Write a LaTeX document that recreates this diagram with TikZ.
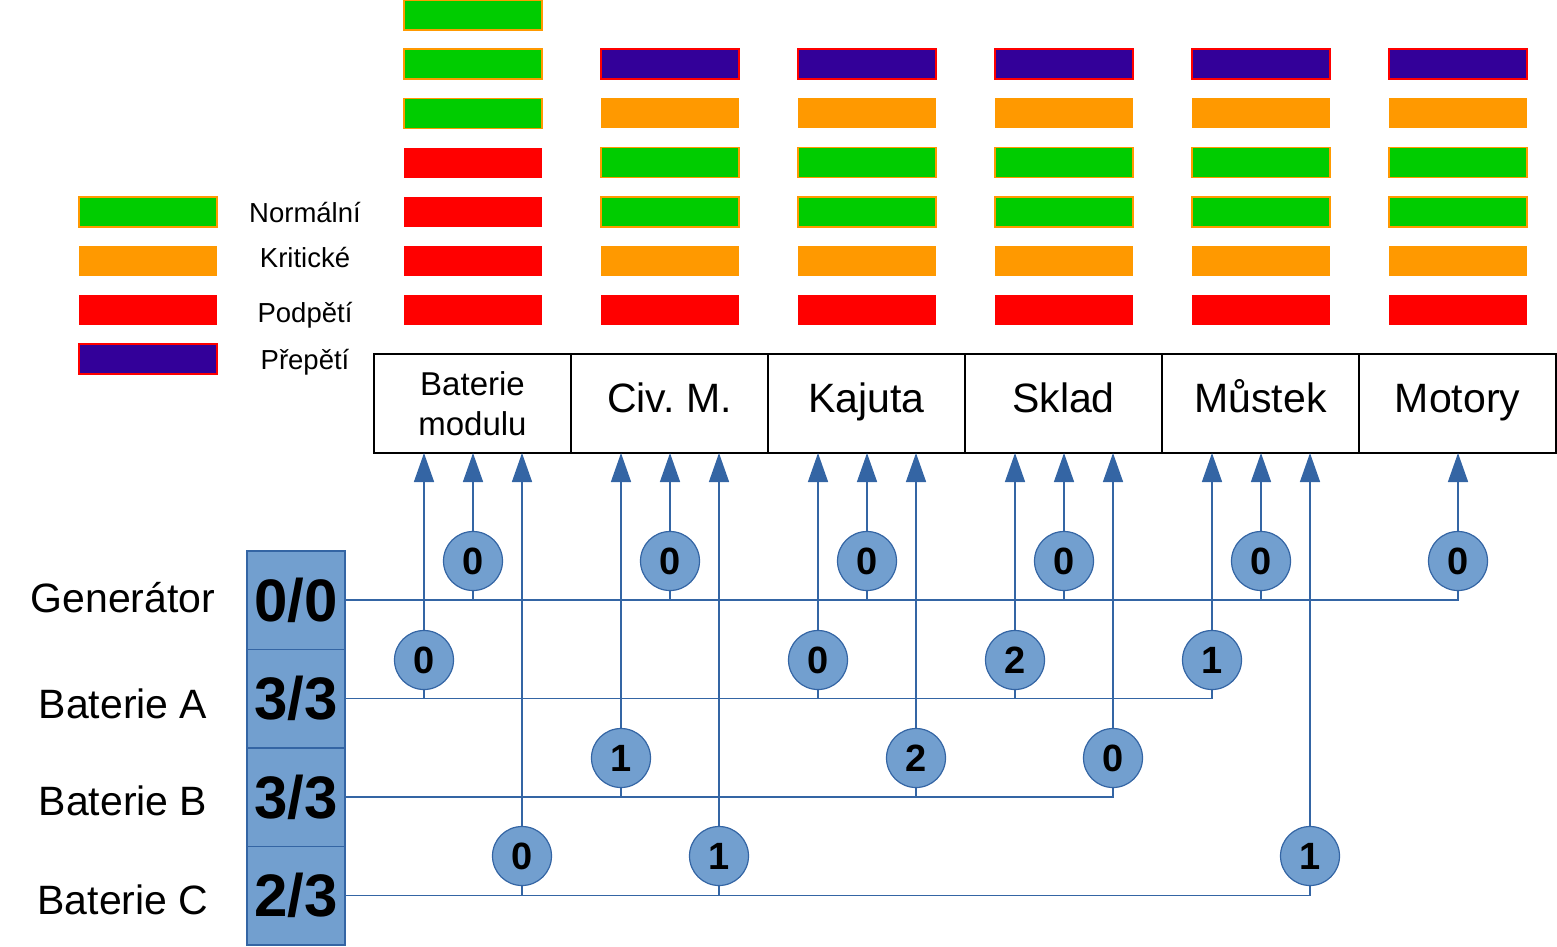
\documentclass[tikz,border=0pt]{standalone}
\usepackage{fontspec}
\setmainfont{Liberation Sans}
\usepackage{tikz}
\usetikzlibrary{arrows.meta,positioning}
\definecolor{okgreen}{RGB}{0,204,0}
\definecolor{critorange}{RGB}{255,153,0}
\definecolor{lowred}{RGB}{255,0,0}
\definecolor{highviolet}{RGB}{51,0,153}
\definecolor{busblue}{RGB}{52,101,164}
\definecolor{cellblue}{RGB}{114,159,207}

\begin{document}
\begin{tikzpicture}[x=1pt, y=-1pt,
    room/.style={draw=black, line width=1.5pt, outer sep=0pt, minimum width=197pt,
        minimum height=99pt, inner sep=0pt, font=\fontsize{41}{49}\selectfont},
    roomtext/.style={room, text height=30pt, text depth=13pt},
    cell/.style={draw=busblue, fill=cellblue, line width=1.5pt, outer sep=0pt,
        minimum width=98pt, minimum height=98.5pt, inner sep=0pt,
        font=\fontsize{60}{68}\selectfont\bfseries},
    rowlabel/.style={anchor=base, font=\fontsize{41}{49}\selectfont},
    legendlabel/.style={anchor=base, font=\fontsize{27.5}{32}\selectfont},
    flow/.style={circle, draw=busblue, fill=cellblue, line width=1.2pt, outer sep=0pt,
        minimum size=59pt, inner sep=0pt, font=\fontsize{38}{44}\selectfont\bfseries},
    bus/.style={draw=busblue, line width=1.5pt},
    feed/.style={bus, -{Triangle[width=20pt,length=29pt]}}]
    \useasboundingbox (0,0) rectangle (1557,946);

    % legend
    \fill[okgreen, draw=critorange, line width=1.5pt] (79,197) rectangle ++(138,30);
    \fill[critorange] (79,246) rectangle ++(138,30);
    \fill[lowred] (79,295) rectangle ++(138,30);
    \fill[highviolet, draw=lowred, line width=1.5pt] (79,344) rectangle ++(138,30);
    \node[legendlabel] (lgnormal) at (305,222) {Normální};
    \node[legendlabel] (lgcrit) at (305,267) {Kritické};
    \node[legendlabel] (lglow) at (305,322) {Podpětí};
    \node[legendlabel] (lghigh) at (305,369) {Přepětí};

    % state bars - module battery
    \foreach \y in {0, 49.2, 98.4} {
        \fill[okgreen, draw=critorange, line width=1.5pt] (404,\y) rectangle ++(138,30);
    }
    \foreach \y in {147.6, 196.8, 246, 295.2} {
        \fill[lowred] (404,\y) rectangle ++(138,30);
    }
    % state bars - other rooms
    \foreach \x in {601, 798, 995, 1192, 1389} {
        \fill[highviolet, draw=lowred, line width=1.5pt] (\x,49.2) rectangle ++(138,30);
        \fill[critorange] (\x,98.4) rectangle ++(138,30);
        \fill[okgreen, draw=critorange, line width=1.5pt] (\x,147.6) rectangle ++(138,30);
        \fill[okgreen, draw=critorange, line width=1.5pt] (\x,196.8) rectangle ++(138,30);
        \fill[critorange] (\x,246) rectangle ++(138,30);
        \fill[lowred] (\x,295.2) rectangle ++(138,30);
    }

    % rooms
    \node[room, align=center, font=\fontsize{33}{40}\selectfont] (box1) at (472.5,403.5) {Baterie\\modulu};
    \node[roomtext, right=0pt of box1] (box2) {Civ.\ M.};
    \node[roomtext, right=0pt of box2] (box3) {Kajuta};
    \node[roomtext, right=0pt of box3] (box4) {Sklad};
    \node[roomtext, right=0pt of box4] (box5) {Můstek};
    \node[roomtext, right=0pt of box5] (box6) {Motory};

    % sources
    \node[cell] (gencell) at (296,600) {0/0};
    \node[cell, below=0pt of gencell] (acell) {3/3};
    \node[cell, below=0pt of acell] (bcell) {3/3};
    \node[cell, below=0pt of bcell] (ccell) {2/3};
    \node[rowlabel] (genlabel) at (123,612) {Generátor};
    \node[rowlabel] (alabel) at (123,718) {Baterie A};
    \node[rowlabel] (blabel) at (123,815) {Baterie B};
    \node[rowlabel] (clabel) at (123,914) {Baterie C};

    % generator
    \foreach \i/\x in {1/473, 2/670, 3/867, 4/1064, 5/1261, 6/1458} {
        \node[flow] (g\i) at (\x,561) {0};
        \draw[feed] (g\i.north) -- (g\i |- box1.south);
    }
    \draw[bus] (gencell.east) -| (g6.south);
    \foreach \i in {1,...,5} {
        \draw[bus] (g\i.south) -- (g\i |- gencell.east);
    }

    % battery A
    \foreach \i/\x/\n in {1/424/0, 2/818/0, 3/1015/2, 4/1212/1} {
        \node[flow] (a\i) at (\x,660) {\n};
        \draw[feed] (a\i.north) -- (a\i |- box1.south);
    }
    \draw[bus] (acell.east) -| (a4.south);
    \foreach \i in {1,...,3} {
        \draw[bus] (a\i.south) -- (a\i |- acell.east);
    }

    % battery B
    \foreach \i/\x/\n in {1/621/1, 2/916/2, 3/1113/0} {
        \node[flow] (b\i) at (\x,758) {\n};
        \draw[feed] (b\i.north) -- (b\i |- box1.south);
    }
    \draw[bus] (bcell.east) -| (b3.south);
    \foreach \i in {1,2} {
        \draw[bus] (b\i.south) -- (b\i |- bcell.east);
    }

    % battery C
    \foreach \i/\x/\n in {1/522/0, 2/719/1, 3/1310/1} {
        \node[flow] (c\i) at (\x,856) {\n};
        \draw[feed] (c\i.north) -- (c\i |- box1.south);
    }
    \draw[bus] (ccell.east) -| (c3.south);
    \foreach \i in {1,2} {
        \draw[bus] (c\i.south) -- (c\i |- ccell.east);
    }
\end{tikzpicture}
\end{document}
